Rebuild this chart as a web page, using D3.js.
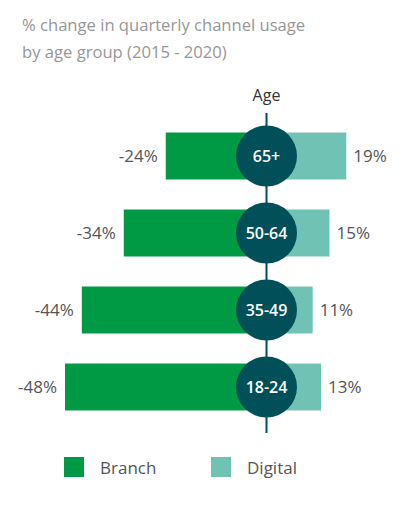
<!DOCTYPE html>
<html><head><meta charset="utf-8">
<script src="https://cdn.jsdelivr.net/npm/d3@7"></script>
<style>
body{margin:0;background:#fff;}
svg{display:block;font-family:"Open Sans",sans-serif;}
</style></head>
<body>
<svg id="chart" width="415" height="516"></svg>
<script>
const ageGroups = ["65+", "50-64", "35-49", "18-24"];
const branchValues = [-24, -34, -44, -48];
const digitalValues = [19, 15, 11, 13];
const seriesNames = ["Branch", "Digital"];
const titleLines = ["% change in quarterly channel usage", "by age group (2015 - 2020)"];

const colors = {Branch: "#009a44", Digital: "#6fc2b4", circle: "#004f59"};
const svg = d3.select("#chart");
const cx = 266.5;
const x = d3.scaleLinear().domain([-48, 0]).range([cx - 201.5, cx]);
const pxPer = x(0) - x(-1);
const xs = d3.scaleLinear().domain([-50, 50]).range([cx - 50*pxPer, cx + 50*pxPer]);
const y = d3.scaleBand().domain(ageGroups).range([117.5, 425.5]).paddingInner(0.39).paddingOuter(0.195);

// title
svg.append("g").selectAll("text").data(titleLines).join("text")
  .attr("x", 22).attr("y", (d,i) => 31 + i*27)
  .attr("fill", "#979797").attr("font-size", 16.6).attr("font-weight", 400)
  .text(d => d);

// axis label
svg.append("text").attr("x", cx).attr("y", 101).attr("text-anchor", "middle")
  .attr("fill", "#333").attr("font-size", 16).text("Age");

// axis line
svg.append("line").attr("x1", cx).attr("x2", cx).attr("y1", 113).attr("y2", 433)
  .attr("stroke", colors.circle).attr("stroke-width", 2);

const rows = ageGroups.map((g, i) => ({g, b: branchValues[i], d: digitalValues[i]}));

// branch bars
svg.append("g").selectAll("rect").data(rows).join("rect")
  .attr("x", r => xs(r.b)).attr("width", r => xs(0) - xs(r.b))
  .attr("y", r => y(r.g)).attr("height", y.bandwidth())
  .attr("fill", colors.Branch);
// digital bars
svg.append("g").selectAll("rect").data(rows).join("rect")
  .attr("x", xs(0)).attr("width", r => xs(r.d) - xs(0))
  .attr("y", r => y(r.g)).attr("height", y.bandwidth())
  .attr("fill", colors.Digital);

// value labels
svg.append("g").selectAll("text").data(rows).join("text")
  .attr("x", r => xs(r.b) - 8).attr("y", r => y(r.g) + y.bandwidth()/2)
  .attr("dy", "0.35em").attr("text-anchor", "end")
  .attr("fill", "#555").attr("font-size", 17).attr("font-weight", 400)
  .text(r => r.b + "%");
svg.append("g").selectAll("text").data(rows).join("text")
  .attr("x", r => xs(r.d) + 7).attr("y", r => y(r.g) + y.bandwidth()/2)
  .attr("dy", "0.35em").attr("text-anchor", "start")
  .attr("fill", "#555").attr("font-size", 17).attr("font-weight", 400)
  .text(r => r.d + "%");

// circles
const cg = svg.append("g").selectAll("g").data(rows).join("g")
  .attr("transform", r => `translate(${cx},${y(r.g) + y.bandwidth()/2})`);
cg.append("circle").attr("r", 30.5).attr("fill", colors.circle);
cg.append("text").attr("text-anchor", "middle").attr("dy", "0.36em")
  .attr("fill", "#fff").attr("font-size", 16).attr("font-weight", 600)
  .text(r => r.g);

// legend
const lg = svg.append("g").selectAll("g").data(seriesNames).join("g")
  .attr("transform", (d,i) => `translate(${64 + i*147},457)`);
lg.append("rect").attr("width", 20).attr("height", 20).attr("fill", d => colors[d]);
lg.append("text").attr("x", 36).attr("y", 17).attr("fill", "#555")
  .attr("font-size", 17).attr("font-weight", 400).text(d => d);
</script>
</body></html>
